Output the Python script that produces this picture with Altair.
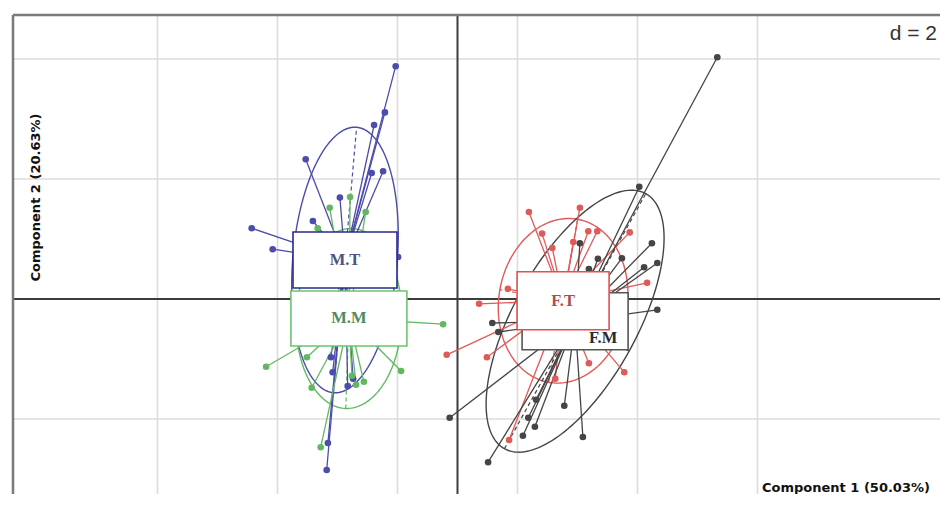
import altair as alt
import numpy as np
import pandas as pd

# ---------------- data (component units) ----------------
classes = ["M.T", "M.M", "F.T", "F.M"]
cent_x = [-1.875, -1.81, 1.76, 1.96]
cent_y = [0.65, -0.325, -0.03, -0.37]

# ellipse: semi-major, semi-minor, angle of major axis (degrees)
ell_a = [2.22, 1.50, 1.38, 2.43]
ell_b = [0.87, 0.88, 1.07, 1.03]
ell_angle = [85, 88, 80, 61]

mt_x = [-1.03, -1.21, -1.39, -2.53, -1.43, -1.24, -1.96, -2.41, -3.43, -3.08, -0.99,
        -2.18, -2.16, -1.74, -1.83, -2.08, -2.11]
mt_y = [3.88, 3.11, 2.90, 2.33, 2.10, 2.13, 1.69, 1.30, 1.18, 0.83, 0.70,
        -2.85, -2.40, -1.33, -1.45, -1.22, -0.97]

mm_x = [-1.79, -2.13, -1.53, -2.33, -0.24, -3.19, -2.51, -2.43, -1.56, -0.94, -2.28, -1.76, -1.69]
mm_y = [1.70, 1.52, 1.45, 1.18, -0.42, -1.13, -0.97, -1.48, -1.38, -1.20, -2.47, -1.28, -1.43]

ft_x = [1.19, 2.04, 1.41, 2.18, 2.33, 1.58, 1.93, 2.87, 0.84, 3.16, 0.36, -0.18, 0.49,
        2.19, 2.78, 1.63, 0.86]
ft_y = [1.45, 1.52, 1.09, 1.13, 1.13, 0.85, 0.95, 1.11, 0.17, 0.27, -0.08, -0.93, -0.97,
        -1.07, -1.22, -1.33, -2.35]

fm_x = [4.33, 3.03, 3.24, 3.33, 3.11, 2.74, 2.34, 2.19, 2.04, 3.33, 0.58, 0.68, -0.13,
        0.51, 1.09, 1.18, 1.29, 1.31, 1.78, 2.09]
fm_y = [4.03, 1.87, 0.93, 0.60, 0.53, 0.68, 0.67, 0.50, 0.93, -0.18, -0.40, -0.55, -1.98,
        -2.72, -2.28, -1.98, -2.13, -1.68, -1.78, -2.30]

grid_x = [-5, -3, -1, 1, 3, 5]
grid_y = [-2, 2, 4]

x_title = "Component 1 (50.03%)"
y_title = "Component 2 (20.63%)"
d_label = "d = 2"

# ---------------- styles ----------------
line_col = ["#2424cc", "#3cb83c", "#e02424", "#1a1a1a"]
pt_col = ["#0c0c88", "#22a522", "#c41010", "#000000"]
ell_col = ["#4c4cac", "#62b862", "#e05a5a", "#454545"]
box_col = ["#2a2a8c", "#6cc46c", "#e05050", "#555555"]
txt_col = ["#52527a", "#4f8a5c", "#b04a4a", "#2a2a2a"]
box_half_px = [(52, 28), (58, 27.5), (46, 29), (53, 28.5)]

W, H = 927, 479
xmin, xmax = -7.4083, 8.0417
ymin, ymax = -3.25, 4.7333
ppu = W / (xmax - xmin)

xs = alt.Scale(domain=[xmin, xmax], nice=False, zero=False)
ys = alt.Scale(domain=[ymin, ymax], nice=False, zero=False)

# ---------------- tables ----------------
pts = []
for cls, px, py, cx, cy in zip(classes, [mt_x, mm_x, ft_x, fm_x], [mt_y, mm_y, ft_y, fm_y],
                               cent_x, cent_y):
    for a, b in zip(px, py):
        pts.append({"cls": cls, "x": a, "y": b, "cx": cx, "cy": cy})
pts = pd.DataFrame(pts)

ell_rows, ax_rows = [], []
t = np.linspace(0, 2 * np.pi, 181)
for cls, cx, cy, a, b, ang in zip(classes, cent_x, cent_y, ell_a, ell_b, ell_angle):
    th = np.deg2rad(ang)
    ex = cx + a * np.cos(t) * np.cos(th) - b * np.sin(t) * np.sin(th)
    ey = cy + a * np.cos(t) * np.sin(th) + b * np.sin(t) * np.cos(th)
    for i, (u, v) in enumerate(zip(ex, ey)):
        ell_rows.append({"cls": cls, "i": i, "x": u, "y": v})
    ax_rows.append({"cls": cls, "x": cx - a * np.cos(th), "y": cy - a * np.sin(th),
                    "x2": cx + a * np.cos(th), "y2": cy + a * np.sin(th)})
    ax_rows.append({"cls": cls, "x": cx + b * np.sin(th), "y": cy - b * np.cos(th),
                    "x2": cx - b * np.sin(th), "y2": cy + b * np.cos(th)})
ell = pd.DataFrame(ell_rows)
axes_df = pd.DataFrame(ax_rows)

boxes = pd.DataFrame({
    "cls": classes,
    "cx": cent_x, "cy": cent_y,
    "x": [c - h[0] / ppu for c, h in zip(cent_x, box_half_px)],
    "x2": [c + h[0] / ppu for c, h in zip(cent_x, box_half_px)],
    "y": [c - h[1] / ppu for c, h in zip(cent_y, box_half_px)],
    "y2": [c + h[1] / ppu for c, h in zip(cent_y, box_half_px)],
})
box_order = ["M.T", "M.M", "F.M", "F.T"]


def cscale(rng):
    return alt.Color("cls:N", scale=alt.Scale(domain=classes, range=rng), legend=None)


def X(f="x"):
    return alt.X(f"{f}:Q", scale=xs, axis=None)


def Y(f="y"):
    return alt.Y(f"{f}:Q", scale=ys, axis=None)


layers = []
# grid
layers.append(alt.Chart(pd.DataFrame({"g": grid_x})).mark_rule(color="#dcdcdc", strokeWidth=1.6)
              .encode(x=alt.X("g:Q", scale=xs, axis=None)))
layers.append(alt.Chart(pd.DataFrame({"g": grid_y})).mark_rule(color="#dcdcdc", strokeWidth=1.6)
              .encode(y=alt.Y("g:Q", scale=ys, axis=None)))
# axes through origin
layers.append(alt.Chart(pd.DataFrame({"g": [0]})).mark_rule(color="#3c3c3c", strokeWidth=2)
              .encode(x=alt.X("g:Q", scale=xs, axis=None)))
layers.append(alt.Chart(pd.DataFrame({"g": [0]})).mark_rule(color="#3c3c3c", strokeWidth=2)
              .encode(y=alt.Y("g:Q", scale=ys, axis=None)))
# frame (left & top visible)
layers.append(alt.Chart(pd.DataFrame({"g": [0]})).mark_rule(color="#7a7a7a", strokeWidth=2.5)
              .encode(x=alt.value(0), y=alt.value(0), y2=alt.value(H)))
layers.append(alt.Chart(pd.DataFrame({"g": [0]})).mark_rule(color="#7a7a7a", strokeWidth=2.5)
              .encode(x=alt.value(0), x2=alt.value(W), y=alt.value(0)))
# ellipses
layers.append(alt.Chart(ell).mark_line(strokeWidth=1.4, interpolate="linear")
              .encode(x=X(), y=Y(), detail="cls:N", order="i:Q", color=cscale(ell_col)))
layers.append(alt.Chart(axes_df).mark_rule(strokeWidth=1.2, strokeDash=[4, 3])
              .encode(x=X(), y=Y(), x2="x2:Q", y2="y2:Q", color=cscale(ell_col)))
# stars
layers.append(alt.Chart(pts).mark_rule(strokeWidth=1.3)
              .encode(x=X(), y=Y(), x2="cx:Q", y2="cy:Q", color=cscale(line_col)))
# points
layers.append(alt.Chart(pts).mark_circle(size=44, opacity=1)
              .encode(x=X(), y=Y(), color=cscale(pt_col)))
# label boxes and labels
for cls in box_order:
    i = classes.index(cls)
    sub = boxes[boxes.cls == cls]
    layers.append(alt.Chart(sub).mark_rect(fill="white", stroke=box_col[i], strokeWidth=1.6)
                  .encode(x=X(), x2="x2:Q", y=Y(), y2="y2:Q"))
    dx, dy = (28, 17) if cls == "F.M" else (0, 0)
    layers.append(alt.Chart(sub).mark_text(font="Liberation Serif", fontWeight="bold",
                                           fontSize=16.5, color=txt_col[i], dx=dx, dy=dy)
                  .encode(x=X("cx"), y=Y("cy"), text="cls:N"))
# titles
layers.append(alt.Chart(pd.DataFrame({"t": [x_title]})).mark_text(
    font="DejaVu Sans", fontWeight="bold", fontSize=13, color="#111", align="left",
    baseline="middle").encode(x=alt.value(749), y=alt.value(473), text="t:N"))
layers.append(alt.Chart(pd.DataFrame({"t": [y_title]})).mark_text(
    font="DejaVu Sans", fontWeight="bold", fontSize=13, color="#111", align="center",
    baseline="middle", angle=270).encode(x=alt.value(23), y=alt.value(182.5), text="t:N"))
layers.append(alt.Chart(pd.DataFrame({"t": [d_label]})).mark_text(
    font="Liberation Sans", fontSize=21, color="#333", align="right",
    baseline="middle").encode(x=alt.value(924), y=alt.value(19), text="t:N"))

chart = alt.layer(*layers).properties(
    width=W, height=H, autosize="none",
    padding={"left": 5, "top": 7, "right": 0, "bottom": 0},
).configure_view(stroke=None)

chart.save("out.html", embed_options={"renderer": "svg", "actions": False})
